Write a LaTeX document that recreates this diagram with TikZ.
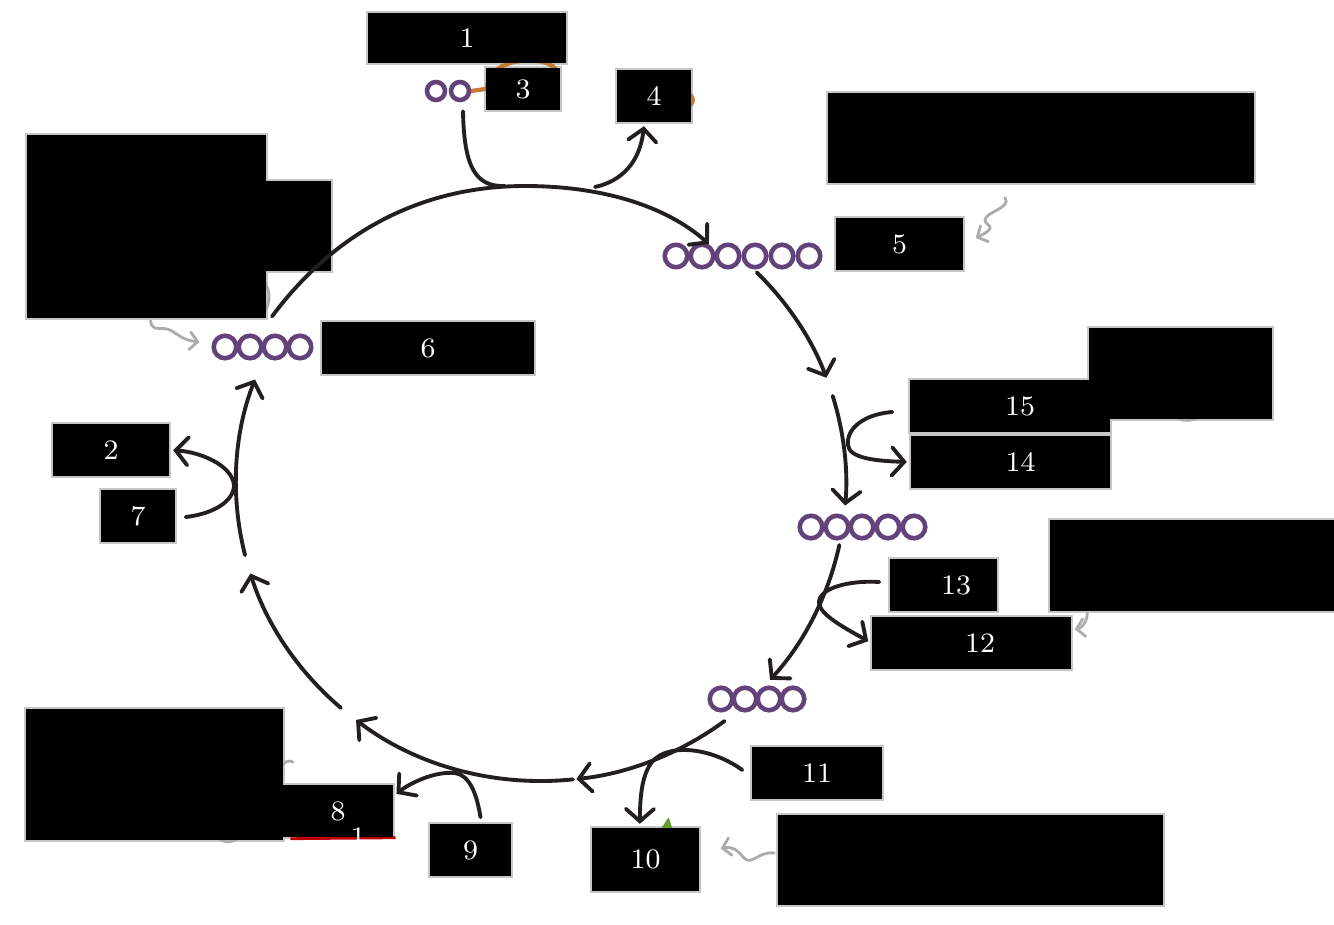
\documentclass[tikz,border=0pt]{standalone}
\usetikzlibrary{arrows.meta,calc,backgrounds}
\definecolor{bead}{RGB}{99,66,122}
\definecolor{ink}{RGB}{35,31,32}
\definecolor{ochre}{RGB}{196,122,52}
\definecolor{leaf}{RGB}{96,160,40}

\begin{document}
\begin{tikzpicture}[
  x=0.01cm, y=-0.01cm,
  font=\footnotesize,
  cover/.style 2 args={fill=black,text=white,
              minimum width=#1*0.01cm,minimum height=#2*0.01cm,inner sep=0pt},
  unit/.style={circle,draw=bead,line width=1.3pt,minimum size=0.225cm,inner sep=0pt},
  smallunit/.style={unit,minimum size=0.18cm},
  flow/.style={draw=ink,line width=1.1pt,line cap=round},
  arr/.style={flow,-{Straight Barb[length=3.5pt,width=8pt,line cap=round]},shorten >=1pt},
  hint/.style={draw=gray!65,line width=0.8pt,line cap=round},
  hintarr/.style={hint,-{Straight Barb[length=2.2pt,width=5pt,line cap=round]}},
  smudge/.style={line width=1.2pt,line cap=round},
]
\useasboundingbox (0,0) rectangle (1334,924);

%% ---- Label boxes -----------------------------------------------------------
\node[cover={198}{50}]  (box1)   at (467,38)      {1};
\node[cover={74}{42}]   (box3)   at (523,89)      {3};
\node[cover={74}{52}]   (box4)   at (654,96)      {4};
\node[cover={426}{90}]  (noteT)  at (1041,138)    {};
\node[cover={127}{52}]  (box5)   at (899.5,244)   {5};
\node[cover={239}{183}] (noteA)  at (146.5,226.5) {};
\node[cover={304}{90}]  (noteB)  at (179,226)     {};
\node[cover={212}{52}]  (box6)   at (428,348)     {6};
\node[cover={116}{52}]  (box2)   at (111,450)     {2};
\node[cover={74}{52}]   (box7)   at (138,516)     {7};
\node[cover={200}{52}]  (box15)  at (1010,406)    {\hspace*{0.2cm}15};
\node[cover={183}{91}]  (noteR1) at (1180.5,373.5) {};
\node[cover={199}{52}]  (box14)  at (1010.5,462)  {\hspace*{0.2cm}14};
\node[cover={107}{52}]  (box13)  at (943.5,585)   {\hspace*{0.25cm}13};
\node[cover={284}{91}]  (noteR2) at (1192,565.5)  {};
\node[cover={199}{52}]  (box12)  at (971.5,643)   {\hspace*{0.17cm}12};
\node[cover={130}{52}]  (box11)  at (817,773)     {11};
\node[cover={107}{63}]  (box10)  at (645.5,859.5) {10};
\node[cover={385}{90}]  (noteR3) at (970.5,860)   {};
\node[cover={81}{52}]   (box9)   at (470.5,850)   {9};
\node[cover={257}{131}] (noteL)  at (154.5,774.5) {};
\node[cover={110}{52}]  (box8)   at (338,811)     {8};
\node[text=white] (box8b) at (358,837) {1};

%% ---- Chains ----------------------------------------------------------------
\foreach \i/\x in {1/436,2/460} \node[smallunit] (c2-\i) at (\x,91) {};
\foreach \i/\x in {1/676,2/702,3/728,4/755,5/782,6/809} \node[unit] (c6-\i) at (\x,256) {};
\foreach \i/\x in {1/811,2/837,3/862,4/888,5/914} \node[unit] (c5-\i) at (\x,527) {};
\foreach \i/\x in {1/721,2/745,3/769,4/793} \node[unit] (c4b-\i) at (\x,699) {};
\foreach \i/\x in {1/225,2/250,3/275,4/300} \node[unit] (c4a-\i) at (\x,347) {};

%% ---- Ring ------------------------------------------------------------------
\coordinate (hub)  at (541,483);
\coordinate (jin)  at (505,186);
\coordinate (jout) at (595,187);
\draw[arr] ($(c4a-4.north)+(-28,-17)$) .. controls (340,225) and (430,186) .. (525,186)
           .. controls (600,186) and (665,205) .. (c6-2.north east);
\foreach \a/\b in {315/340,343/365,12/42,53/84,84/128,131/163,166/201}
  \draw[arr] ($(hub)+(\a:305 and 298)$) arc[start angle=\a,end angle=\b,x radius=305,y radius=298];

%% ---- Side steps ------------------------------------------------------------
\draw[flow] ($(c2-2.south)+(3,9)$) .. controls (464,168) and (476,187) .. (jin);
\draw[arr]  (jout) .. controls (622,181) and (640,162) .. (box4.-110);
\draw[arr]  ($(box15.west)+(-17,6)$) .. controls (865,414) and (846,428) .. (848,445)
            .. controls (849,458) and (875,461) .. (box14.west);
\draw[arr]  ($(box13.west)+(-10,-3)$) .. controls (850,580) and (818,588) .. (819,603)
            .. controls (820,615) and (845,628) .. (box12.west);
\draw[arr]  ($(box11.west)+(-9,-3)$) .. controls (715,750) and (675,743) .. (656,758)
            .. controls (641,770) and (640,800) .. (box10.100);
\draw[arr]  ($(box9.north)+(10,-6)$) .. controls (477,795) and (470,775) .. (455,773)
            .. controls (435,771) and (410,783) .. (box8.15);
\draw[arr]  ($(box7.east)+(10,1)$) .. controls (212,514) and (234,502) .. (234,485)
            .. controls (232,465) and (200,452) .. (box2.east);

%% ---- Grey pointers, box outlines and stray marks, behind the boxes
\begin{scope}[on background layer]
  \foreach \n in {box1,box3,box4,noteT,box5,noteA,noteB,box6,box2,box7,box15,noteR1,
                  box14,box13,noteR2,box12,box11,box10,noteR3,box9,noteL,box8}
    \draw[gray!45,line width=0.6pt] (\n.south west) rectangle (\n.north east);
  \draw[hintarr] ($(noteT.south)+(-36,14)$) .. controls (1012,208) and (985,212) .. (985,220)
                 .. controls (985,226) and (1000,226) .. ($(box5.east)+(12,-6)$);
  \draw[hintarr] ($(noteR2.south west)+(38,1)$) .. controls (1087,622) and (1082,628)
                 .. ($(box12.north east)+(3,13)$);
  \draw[hintarr] ($(noteR3.west)+(-3,-7)$) .. controls (758,851) and (752,866) .. (744,858)
                 .. controls (737,850) and (733,846) .. ($(box10.east)+(21,-11)$);
  \draw[hintarr] ($(noteA.south)+(4,2)$) .. controls (152,333) and (162,326) .. (170,330)
                 .. controls (178,334) and (182,340) .. ($(c4a-1.west)+(-12,-5)$);
  \draw[hint] (258,276) .. controls (272,285) and (272,305) .. (262,314);
  \draw[hint] (278,772) .. controls (284,760) and (289,760) .. (293,762);
  \draw[hint] (215,834) .. controls (222,845) and (235,843) .. (240,836);
  \draw[hint] (1175,416) .. controls (1180,422) and (1195,422) .. (1200,415);
  \draw[smudge,ochre] (c2-2.east) -- (box3.west);
  \draw[smudge,ochre] ($(box3.west)+(2,-3)$) .. controls (490,55) and (552,55)
                      .. ($(box3.north east)+(-4,4)$);
  \draw[smudge,ochre] (686,92) .. controls (695,96) and (695,104) .. (686,108);
  \draw[red!75!black,line width=0.8pt] ($(box8.south west)+(8,1)$) -- ($(box8.south east)+(2,0)$);
  \draw[smudge,leaf] (660,834) -- (668,822) -- (672,834);
\end{scope}

\end{tikzpicture}
\end{document}
